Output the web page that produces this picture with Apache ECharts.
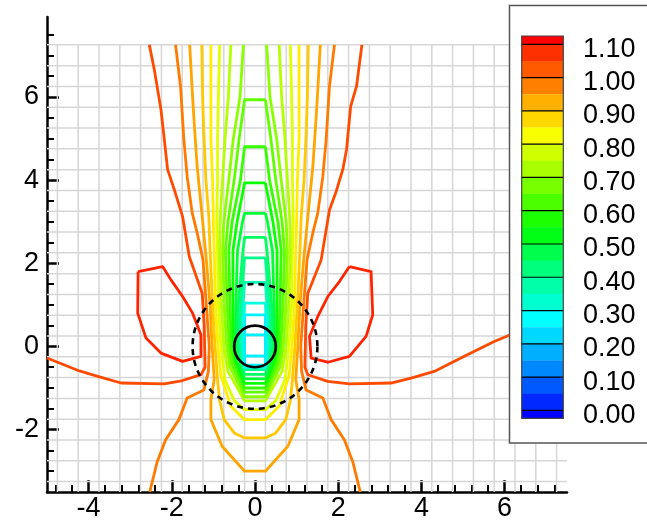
<!DOCTYPE html>
<html><head><meta charset="utf-8">
<script src="https://cdn.jsdelivr.net/npm/echarts@6/dist/echarts.min.js"></script>
<style>html,body{margin:0;padding:0;background:#fff}#c{width:647px;height:522px}</style>
</head><body><div id="c"></div>
<script>
// ---------- axis ticks / labels ----------
const xMajor = [-4, -2, 0, 2, 4, 6];
const xMinor = [-4.8,-4.4,-3.6,-3.2,-2.8,-2.4,-1.6,-1.2,-0.8,-0.4,0.4,0.8,1.2,1.6,2.4,2.8,3.2,3.6,4.4,4.8,5.2,5.6,6.4,6.8,7.2];
const yMajor = [-2, 0, 2, 4, 6];
const yMinor = [-3,-2.5,-1.5,-1,-0.5,0.5,1,1.5,2.5,3,3.5,4.5,5,5.5,6.5,7,7.5];
// legend
const legendLabels = ['1.10','1.00','0.90','0.80','0.70','0.60','0.50','0.40','0.30','0.20','0.10','0.00'];
const legendColors = ['#ff0000','#ff3000','#ff5a00','#ff8000','#ffb000','#ffd800','#f8ff00','#d0ff00','#a8ff00','#78ff00','#4cff00','#1cff00','#00ff14','#00ff4c','#00ff7c','#00ffa8','#00ffd0','#00ffff','#00d8ff','#00b0ff','#0088ff','#0058ff','#0028ff','#0000ff'];

// ---------- contour lines (right halves, x>=0, top -> bottom) ----------
const c100Right = [[1.91,7.25],[1.79,6.25],[1.71,4.97],[1.63,4.08],[1.51,3.21],[1.39,2.73],[1.25,2.08],[1.17,1.0],[1.1,0],[1.12,-0.6],[1.23,-1.05],[1.63,-1.24],[1.83,-1.76],[2.15,-2.25],[2.35,-2.77],[2.53,-3.5]];
const c095 = [[1.57,7.25],[1.5,6],[1.45,5.2],[1.39,4.32],[1.27,3.12],[1.17,2.08],[1.08,1.0],[1.03,0],[0.98,-0.8],[1.06,-1.28],[1.06,-1.76],[0.79,-2.4],[0.25,-3.0]];
const c090 = [[1.28,7.25],[1.26,6],[1.23,5.13],[1.18,4],[1.11,3.12],[1.08,2.3],[1.02,1.0],[0.96,0],[0.9,-0.8],[0.85,-1.3],[0.74,-1.76],[0.5,-2.08],[0.25,-2.2]];
const c085 = [[1.06,7.25],[1.06,6],[1.06,5],[1.02,4],[1.0,3],[0.98,2.3],[0.95,1.0],[0.89,0],[0.82,-0.7],[0.58,-1.44],[0.25,-1.76]];
const c080 = [[0.85,7.25],[0.88,6],[0.9,5],[0.9,4],[0.92,3],[0.9,2.3],[0.88,1.0],[0.82,0],[0.72,-0.8],[0.5,-1.3],[0.25,-1.52]];
const c075 = [[0.58,7.25],[0.64,6],[0.72,5],[0.78,4],[0.84,3],[0.85,2.3],[0.81,1.0],[0.75,0],[0.65,-0.6],[0.25,-1.31]];
const c070 = [[0.28,7.25],[0.36,6],[0.52,5],[0.63,4],[0.75,3],[0.78,2.3],[0.74,1.0],[0.68,0],[0.6,-0.5],[0.25,-1.21]];
const c065 = [[0.25,5.93],[0.38,5],[0.5,4],[0.65,3],[0.71,2.3],[0.67,1.0],[0.62,0],[0.55,-0.45],[0.25,-1.1]];
const c060 = [[0.25,4.8],[0.35,4],[0.55,3],[0.63,2.3],[0.6,1.0],[0.57,0],[0.5,-0.4],[0.25,-1.0]];
const c055 = [[0.25,3.93],[0.43,3],[0.53,2.3],[0.53,1.0],[0.52,0],[0.46,-0.35],[0.25,-0.89]];
const c050 = [[0.25,3.2],[0.3,3],[0.42,2.3],[0.46,1.0],[0.47,0],[0.42,-0.3],[0.25,-0.78]];
const c045 = [[0.25,2.62],[0.29,2.3],[0.4,1.0],[0.42,0],[0.38,-0.25],[0.25,-0.67]];
const c040 = [[0.25,2.13],[0.34,1.0],[0.37,0],[0.34,-0.2],[0.25,-0.56]];
const c035 = [[0.25,1.54],[0.29,1.0],[0.32,0],[0.25,-0.52]];
const c030 = [[0.25,1.04],[0.27,0.5],[0.27,0],[0.25,-0.5]];
const c025 = [[0.25,0.76],[0.25,-0.45]];
const c020 = [[0.25,0.28],[0.25,-0.23]];
// asymmetric outer contour (1.05)
const c105Left = [[-2.54,7.25],[-2.42,6.65],[-2.26,5.69],[-2.1,4.25],[-1.94,3.77],[-1.74,3.12],[-1.58,2.16],[-1.27,1.28],[-1.22,0.5],[-1.2,-0.5],[-1.3,-0.68],[-1.74,-0.82],[-2.18,-0.9],[-3.22,-0.88],[-3.78,-0.72],[-4.22,-0.59],[-5,-0.28]];
const c105Right = [[2.57,7.25],[2.44,6.25],[2.3,5.77],[2.2,4.73],[2.11,4.25],[1.95,3.72],[1.79,3.28],[1.59,2.08],[1.27,1.28],[1.22,0.5],[1.2,-0.5],[1.27,-0.68],[1.75,-0.84],[2.27,-0.9],[3.27,-0.88],[3.75,-0.76],[4.31,-0.6],[4.71,-0.4],[5.19,-0.16],[5.75,0.12],[6.14,0.28],[7.5,0.72]];
// closed local-maximum loops (1.10)
const c110Left = [[-2.81,1.8],[-2.22,1.92],[-2.02,1.6],[-1.74,1.2],[-1.5,0.8],[-1.3,0.28],[-1.3,-0.24],[-1.74,-0.36],[-2.26,-0.16],[-2.62,0.2],[-2.82,0.8],[-2.81,1.8]];
const c110Right = [[2.27,1.92],[2.79,1.8],[2.83,0.76],[2.67,0.24],[2.27,-0.24],[1.75,-0.38],[1.35,-0.28],[1.31,0.24],[1.51,0.72],[1.75,1.2],[2.03,1.56],[2.27,1.92]];
// circles: [cx, cy, r, dashed]
const circles = [[0,0,0.5,0],[0,0,1.5,1]];

// ---------- build series ----------
const mir = p => p.map(([x,y]) => [-x,y]);
const openTop = h => mir(h).concat(h.slice().reverse());
const closed = h => { const r = h.concat(mir(h).reverse()); r.push(h[0]); return r; };

const contourList = [
  [c100Right,'#ff7a00'], [mir(c100Right),'#ff7a00'],
  [openTop(c095),'#ffa500'], [openTop(c090),'#ffc800'], [openTop(c085),'#ffee00'],
  [openTop(c080),'#e0ff00'], [openTop(c075),'#b5ff00'], [openTop(c070),'#8aff00'],
  [closed(c065),'#60ff00'], [closed(c060),'#35ff00'], [closed(c055),'#0aff00'],
  [closed(c050),'#00ff35'], [closed(c045),'#00ff60'], [closed(c040),'#00ff8a'],
  [closed(c035),'#00ffb5'], [closed(c030),'#00ffe0'], [closed(c025),'#00f4ff'], [closed(c020),'#00f0ff'],
  [c105Left,'#ff4a00'], [c105Right,'#ff4a00'],
  [c110Left,'#ff2400'], [c110Right,'#ff2400']
];

const FONT = '"Liberation Sans", Arial, sans-serif';
const mesh = [];
for (let x = -4.75; x <= 7.3; x += 0.5) mesh.push([x,-3.5,x,7.25]);
for (let y = -3.25; y <= 7.3; y += 0.5) mesh.push([-5,y,7.5,y]);

const series = [{
  type:'custom', z:1, silent:true, data: mesh,
  renderItem:(p,api)=>{ const a=api.coord([api.value(0),api.value(1)]), b=api.coord([api.value(2),api.value(3)]);
    return {type:'line', shape:{x1:a[0],y1:a[1],x2:b[0],y2:b[1]}, style:{stroke:'#d6d6d6', lineWidth:1.5}}; }
}];
contourList.forEach(([d,c]) => series.push({
  type:'line', data:d, symbol:'none', showSymbol:false, silent:true, z:3, clip:true,
  lineStyle:{color:c, width:2.8, join:'round'}
}));
series.push({
  type:'custom', z:5, silent:true, data: circles,
  renderItem:(p,api)=>{ const c=api.coord([api.value(0),api.value(1)]); const r=api.size([api.value(2),0])[0];
    return {type:'circle', shape:{cx:c[0],cy:c[1],r:r}, style:{fill:'none', stroke:'#000', lineWidth:2.6, lineDash: api.value(3) ? [6,5] : null}}; }
});

const gfx = [{type:'rect', z:100, shape:{x:509.5,y:5.5,width:140,height:437.5}, style:{fill:'#fff', stroke:'#555', lineWidth:1.5}}];
const barX = 521.7, barW = 41.6, lv0 = 44.3, half = 16.64;
legendColors.forEach((c,i)=>{
  let y0, y1;
  if (i === 0) { y0 = 36; y1 = lv0; }
  else if (i === legendColors.length-1) { y0 = lv0 + 22*half; y1 = 418.3; }
  else { y0 = lv0 + (i-1)*half; y1 = lv0 + i*half; }
  gfx.push({type:'rect', z:101, shape:{x:barX,y:y0,width:barW,height:y1-y0+0.3}, style:{fill:c}});
});
legendLabels.forEach((t,k)=>{
  const y = lv0 + 2*k*half;
  gfx.push({type:'line', z:102, shape:{x1:barX,y1:y,x2:barX+barW,y2:y}, style:{stroke:'#000', lineWidth:1.2}});
  gfx.push({type:'text', z:102, style:{text:t, x:583, y:y+5, fill:'#000', font:'27px '+FONT, textVerticalAlign:'middle', textAlign:'left'}});
});
gfx.push({type:'rect', z:103, shape:{x:barX,y:36,width:barW,height:418.3-36}, style:{fill:'none', stroke:'#444', lineWidth:1.2}});

const axisBase = (min,max) => ({type:'value', min, max, splitLine:{show:false}});
const option = {
  animation:false,
  grid:{left:47, top:17, width:520, height:475},
  xAxis:[
    Object.assign(axisBase(-5,7.5), {position:'bottom',
      axisLine:{show:true, onZero:false, lineStyle:{color:'#000', width:2.5}},
      axisTick:{show:true, inside:true, length:12, customValues:xMajor, lineStyle:{color:'#000', width:2.5}},
      axisLabel:{show:true, customValues:xMajor, color:'#000', fontSize:27, fontFamily:FONT, margin:3}}),
    Object.assign(axisBase(-5,7.5), {position:'bottom',
      axisLine:{show:false, onZero:false}, axisLabel:{show:false},
      axisTick:{show:true, inside:true, length:7, customValues:xMinor, lineStyle:{color:'#000', width:2}}})
  ],
  yAxis:[
    Object.assign(axisBase(-3.5,7.92), {position:'left',
      axisLine:{show:true, onZero:false, lineStyle:{color:'#000', width:2.5}},
      axisTick:{show:true, inside:true, length:12, customValues:yMajor, lineStyle:{color:'#000', width:2.5}},
      axisLabel:{show:true, customValues:yMajor, color:'#000', fontSize:27, fontFamily:FONT, margin:8}}),
    Object.assign(axisBase(-3.5,7.92), {position:'left',
      axisLine:{show:false, onZero:false}, axisLabel:{show:false},
      axisTick:{show:true, inside:true, length:7, customValues:yMinor, lineStyle:{color:'#000', width:2}}})
  ],
  graphic: gfx,
  series: series
};
const chart = echarts.init(document.getElementById('c'), null, {renderer:'canvas'});
chart.setOption(option);
</script></body></html>
